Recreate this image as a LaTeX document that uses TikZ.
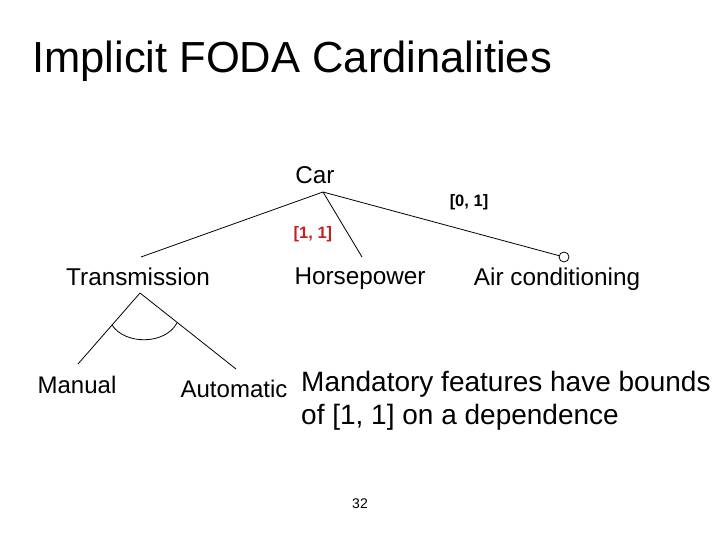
\documentclass[tikz,border=0pt]{standalone}
\usepackage{fontspec}
\setmainfont{Liberation Sans}
\definecolor{bred}{RGB}{200,30,30}
\begin{document}
\begin{tikzpicture}[x=1pt,y=-1pt,
  lbl/.style={font=\fontsize{24.3}{28}\selectfont,inner sep=0},
  sub/.style={font=\fontsize{24}{28}\selectfont,inner sep=0},
  card/.style={font=\fontsize{16.5}{19}\selectfont\bfseries,inner sep=0},
  ln/.style={line width=0.8pt}]
\useasboundingbox (0,0) rectangle (720,540);
\node[anchor=west,inner sep=0,font=\fontsize{43.5}{48}\selectfont] (title) at (32,61) {Implicit FODA Cardinalities};
\node[lbl] (car) at (315,175) {Car};
\coordinate (apex) at (323,192);
\node[lbl] (trans) at (138,277) {Transmission};
\node[lbl] (hp) at (360,279) {Horsepower};
\node[lbl] (ac) at (557,279) {Air conditioning};
\coordinate (te) at (141,257);
\coordinate (he) at (362,257);
\node[draw,circle,minimum size=10,inner sep=0,line width=0.8pt] (circ) at (564,257) {};
\draw[ln] (apex) -- (te);
\draw[ln] (apex) -- (he);
\draw[ln] (apex) -- (circ);
\node[card] (c01) at (469,202) {[0, 1]};
\node[card,text=bred] (c11) at (313,234) {[1, 1]};
\coordinate (tapex) at (140,293);
\node[sub] (man) at (77,385) {Manual};
\node[sub] (aut) at (234,389) {Automatic};
\coordinate (me) at (78,364);
\coordinate (ae) at (236,369);
\draw[ln] (tapex) -- (me);
\draw[ln] (tapex) -- (ae);
\draw[ln] (112,325) .. controls (125,345) and (165,345) .. (177,323);
\node[anchor=west,inner sep=0,align=left,font=\fontsize{28}{33}\selectfont] (txt) at (301,401) {Mandatory features have bounds\\of [1, 1] on a dependence};
\node[inner sep=0,font=\fontsize{14}{16}\selectfont] (pg) at (360,504) {32};
\end{tikzpicture}
\end{document}
